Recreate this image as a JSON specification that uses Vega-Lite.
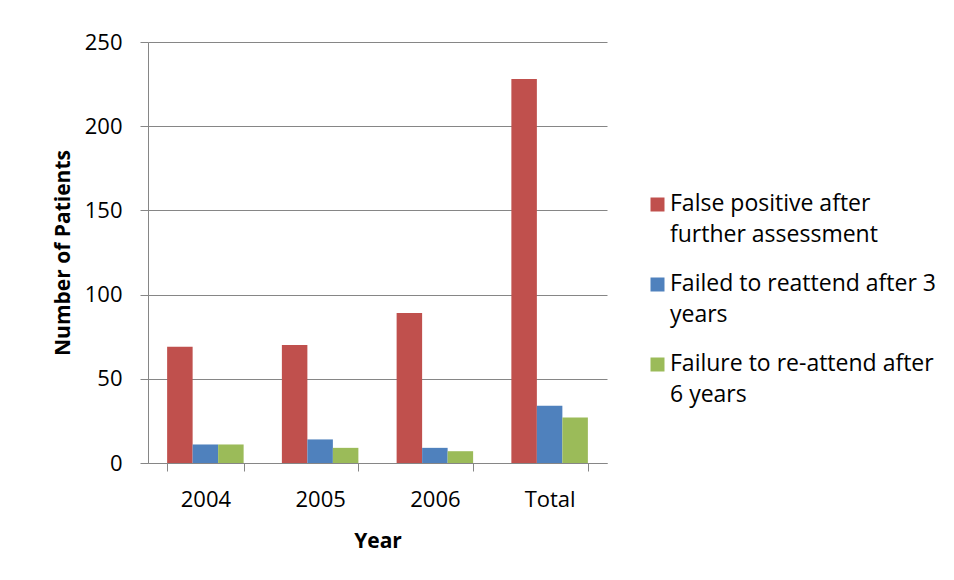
{
  "$schema": "https://vega.github.io/schema/vega-lite/v6.json",
  "width": 459,
  "height": 421,
  "autosize": "none",
  "padding": {"left": 148, "top": 42, "right": 347, "bottom": 117},
  "background": "white",
  "config": {
    "font": "Open Sans",
    "view": {"stroke": null},
    "axis": {
      "labelFont": "Open Sans", "titleFont": "Open Sans",
      "labelColor": "black", "titleColor": "black",
      "domainColor": "#868686", "tickColor": "#868686", "gridColor": "#868686",
      "labelFontSize": 22, "titleFontSize": 21, "titleFontWeight": "bold",
      "tickSize": 8
    },
    "legend": {"labelFont": "Open Sans", "labelFontSize": 23, "labelColor": "black"}
  },
  "data": {
    "values": [
      {"Year": "2004", "Category": "False positive after further assessment", "Value": 69},
      {"Year": "2004", "Category": "Failed to reattend after 3 years", "Value": 11},
      {"Year": "2004", "Category": "Failure to re-attend after 6 years", "Value": 11},
      {"Year": "2005", "Category": "False positive after further assessment", "Value": 70},
      {"Year": "2005", "Category": "Failed to reattend after 3 years", "Value": 14},
      {"Year": "2005", "Category": "Failure to re-attend after 6 years", "Value": 9},
      {"Year": "2006", "Category": "False positive after further assessment", "Value": 89},
      {"Year": "2006", "Category": "Failed to reattend after 3 years", "Value": 9},
      {"Year": "2006", "Category": "Failure to re-attend after 6 years", "Value": 7},
      {"Year": "Total", "Category": "False positive after further assessment", "Value": 228},
      {"Year": "Total", "Category": "Failed to reattend after 3 years", "Value": 34},
      {"Year": "Total", "Category": "Failure to re-attend after 6 years", "Value": 27}
    ]
  },
  "mark": {"type": "bar"},
  "encoding": {
    "x": {
      "field": "Year", "type": "nominal",
      "scale": {"paddingInner": 0.3333, "paddingOuter": 0.1667},
      "axis": {"title": "Year", "labelAngle": 0, "tickBand": "extent", "labelPadding": 18, "titlePadding": 20, "domainWidth": 1}
    },
    "xOffset": {
      "field": "Category", "type": "nominal",
      "sort": ["False positive after further assessment", "Failed to reattend after 3 years", "Failure to re-attend after 6 years"],
      "scale": {"paddingInner": 0, "paddingOuter": 0}
    },
    "y": {
      "field": "Value", "type": "quantitative",
      "scale": {"domain": [0, 250]},
      "axis": {"title": "Number of Patients", "values": [0, 50, 100, 150, 200, 250], "grid": true, "labelPadding": 18, "titlePadding": 11}
    },
    "color": {
      "field": "Category", "type": "nominal",
      "sort": ["False positive after further assessment", "Failed to reattend after 3 years", "Failure to re-attend after 6 years"],
      "scale": {"range": ["#C0504D", "#4F81BD", "#9BBB59"]},
      "legend": {
        "title": null,
        "orient": "none",
        "legendX": 498,
        "legendY": 151,
        "symbolType": "square",
        "symbolSize": 196,
        "symbolStrokeWidth": 0,
        "labelLimit": 400,
        "rowPadding": 25,
        "labelBaseline": "top",
        "labelOffset": 1,
        "labelExpr": "datum.label == 'False positive after further assessment' ? ['False positive after', 'further assessment'] : datum.label == 'Failed to reattend after 3 years' ? ['Failed to reattend after 3', 'years'] : ['Failure to re-attend after', '6 years']",
        "encode": {"labels": {"update": {"lineHeight": {"value": 31}, "dy": {"value": -12}}}}
      }
    }
  }
}
